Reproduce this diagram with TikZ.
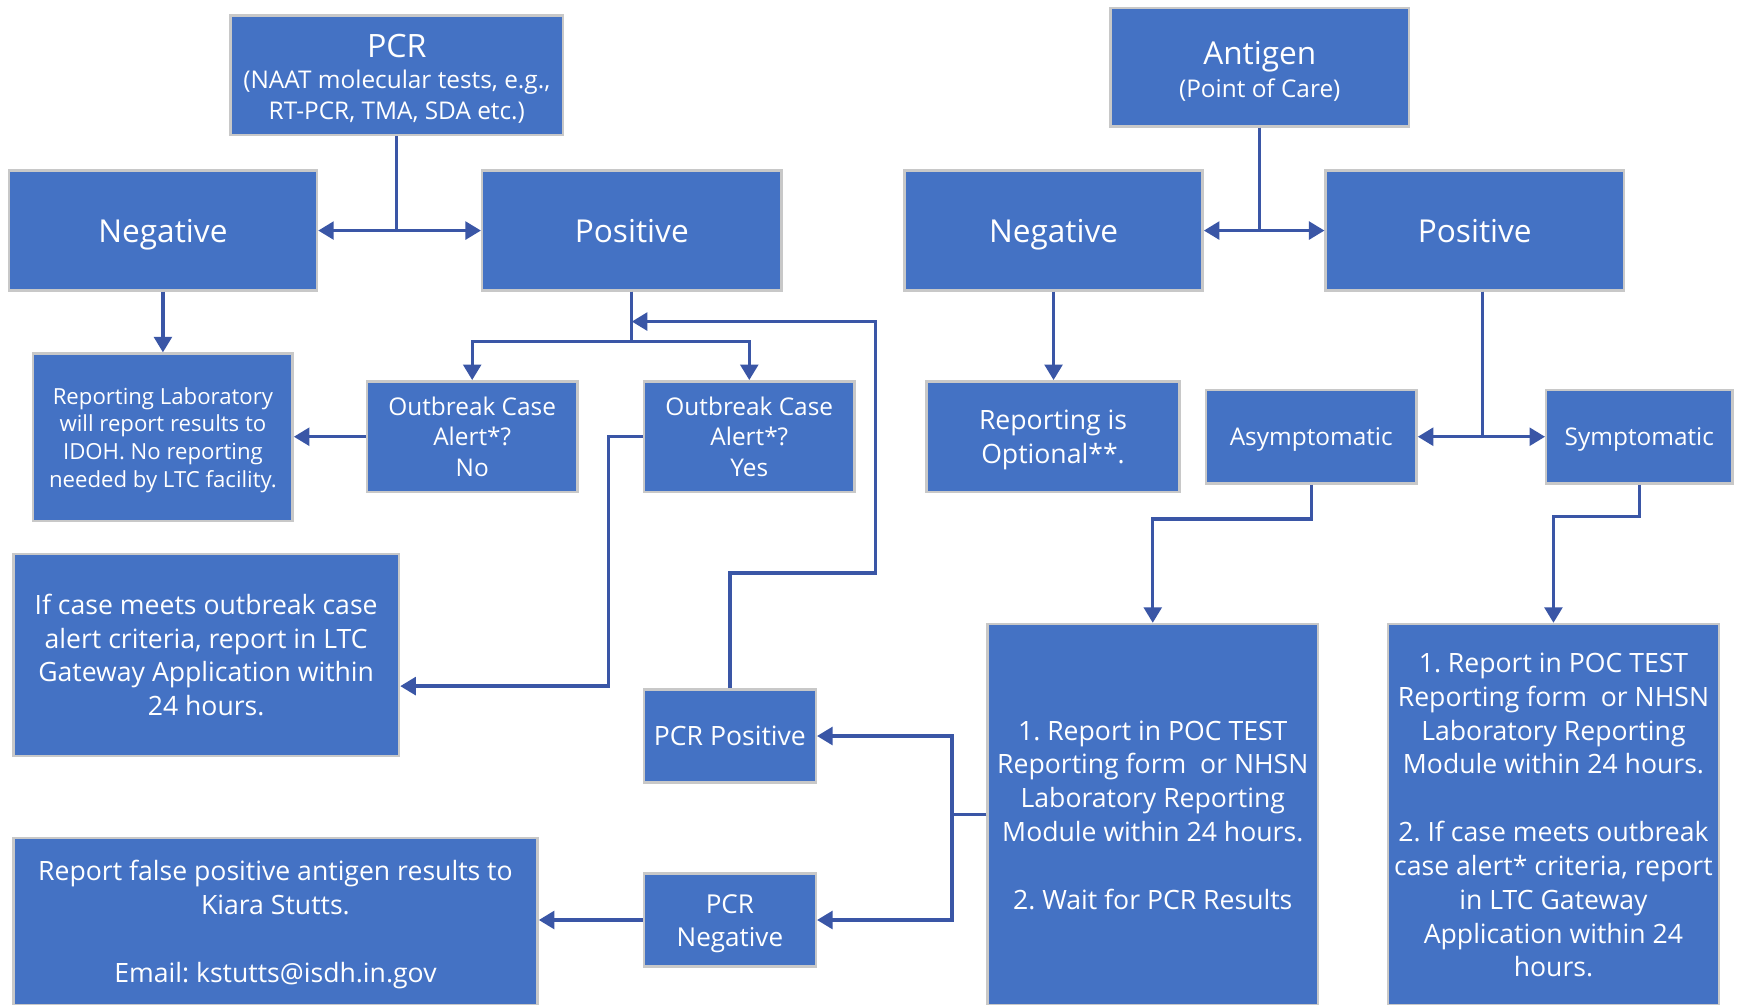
\documentclass[tikz,border=0pt]{standalone}
\usepackage{fontspec}
\setmainfont{Open Sans}
\usetikzlibrary{arrows.meta,calc}
\definecolor{boxblue}{HTML}{4472C4}
\definecolor{boxedge}{HTML}{C8C8C8}
\definecolor{linkblue}{HTML}{3A56A6}
\newcommand\fsz[2]{\fontsize{#1}{#2}\selectfont}
\newcommand\tst{\rule{0pt}{1.0em}}
\newcommand\bst{\rule[-0.25em]{0pt}{0.25em}}
\frenchspacing
\begin{document}
\begin{tikzpicture}[x=1pt,y=-1pt,
  box/.style={draw=boxedge, line width=2.2pt, fill=boxblue, text=white, align=center, inner sep=0pt},
  arr/.style={draw=linkblue, line width=3pt, -{Triangle[length=14pt,width=16pt]}}]
\fill[white] (0,0) rectangle (1568,906);
\useasboundingbox (0,0) rectangle (1568,906);

% PCR side
\node[box, minimum width=300pt, minimum height=108pt, font=\fsz{22}{28}] (pcr) at (358,68)
  {{\fsz{29}{30}\rule{0pt}{0.92em}PCR}\\(NAAT molecular tests, e.g.,\\RT-PCR, TMA, SDA etc.)\rule[-0.1em]{0pt}{0.1em}};
\node[box, minimum width=278pt, minimum height=108pt, font=\fsz{28.5}{34}] (negL) at (147,208) {\tst Negative\bst};
\node[box, minimum width=270pt, minimum height=108pt, font=\fsz{28.5}{34}] (posL) at (570,208) {\tst Positive\bst};
\node[box, minimum width=234pt, minimum height=151pt, font=\fsz{20}{25}] (lab) at (147,394.5)
  {\tst Reporting Laboratory\\will report results to\\IDOH. No reporting\\needed by LTC facility.\bst};
\node[box, minimum width=190pt, minimum height=100pt, font=\fsz{22}{27.5}] (obNo) at (426,394)
  {\tst Outbreak Case\\Alert*?\\No\bst};
\node[box, minimum width=190pt, minimum height=100pt, font=\fsz{22}{27.5}] (obYes) at (676,394)
  {\tst Outbreak Case\\Alert*?\\Yes\bst};
\node[box, minimum width=348pt, minimum height=182pt, font=\fsz{24}{30.5}] (ifcase) at (186,591)
  {\tst If case meets outbreak case\\alert criteria, report in LTC\\Gateway Application within\\24 hours.\bst};
\node[box, minimum width=155pt, minimum height=84pt, font=\fsz{24}{30}] (pcrPos) at (658.5,664) {\tst PCR Positive\bst};
\node[box, minimum width=155pt, minimum height=84pt, font=\fsz{23.5}{30}] (pcrNeg) at (658.5,830) {\tst PCR\\Negative\bst};
\node[box, minimum width=473pt, minimum height=151pt, font=\fsz{24}{30.5}] (falsePos) at (248.5,831.5)
  {\tst Report false positive antigen results to\\Kiara Stutts.\\[30.5pt]Email: kstutts@isdh.in.gov\bst};

% Antigen side
\node[box, minimum width=269pt, minimum height=107pt, font=\fsz{22}{30}] (antigen) at (1136.5,60.5)
  {{\fsz{28.5}{30}\tst Antigen}\\(Point of Care)};
\node[box, minimum width=269pt, minimum height=108pt, font=\fsz{28.5}{34}] (negR) at (950.5,208) {\tst Negative\bst};
\node[box, minimum width=269pt, minimum height=108pt, font=\fsz{28.5}{34}] (posR) at (1330.5,208) {\tst Positive\bst};
\node[box, minimum width=228pt, minimum height=100pt, font=\fsz{24}{31}] (optional) at (950,394)
  {\tst Reporting is\\Optional**.\bst};
\node[box, minimum width=190pt, minimum height=84pt, font=\fsz{22}{28}] (asym) at (1183,394) {\tst Asymptomatic\bst};
\node[box, minimum width=168pt, minimum height=84pt, font=\fsz{22}{28}] (sym) at (1479,394) {\tst Symptomatic\bst};
\node[box, minimum width=298pt, minimum height=344pt, font=\fsz{24}{30.5}] (midBig) at (1040,735)
  {\tst 1. Report in POC TEST\\Reporting form~ or NHSN\\Laboratory Reporting\\Module within 24 hours.\\[30.5pt]2. Wait for PCR Results\bst};
\node[box, minimum width=299pt, minimum height=344pt, font=\fsz{24}{30.5}] (rightBig) at (1401.5,735)
  {\tst 1. Report in POC TEST\\Reporting form~ or NHSN\\Laboratory Reporting\\Module within 24 hours.\\[30.5pt]2. If case meets outbreak\\case alert* criteria, report\\in LTC Gateway\\Application within 24\\hours.\bst};

% connectors, PCR side
\draw[arr] (pcr.south) |- (negL.east);
\draw[arr] (pcr.south) |- (posL.west);
\draw[arr] (negL.south) -- (lab.north);
\draw[arr] (posL.south) -- ++(0,45) -| (obNo.north);
\draw[arr] (posL.south) -- ++(0,45) -| (obYes.north);
\draw[arr] (obNo.west) -- (obNo.west -| lab.east);
\draw[arr] (obYes.west) -- ++(-31,0) |- ([yshift=-28pt]ifcase.east);
\coordinate (fb) at ($(posL.south)+(0,27)$);
\draw[arr] (pcrPos.north) -- ++(0,-104) -- ++(131.5,0) |- (fb);
\draw[arr] (pcrNeg.west) -- (pcrNeg.west -| falsePos.east);

% connectors, antigen side
\draw[arr] (antigen.south) |- (negR.east);
\draw[arr] (antigen.south) |- (posR.west);
\draw[arr] (negR.south) -- (negR.south |- optional.north);
\draw[arr] ([xshift=7pt]posR.south) |- (asym.east);
\draw[arr] ([xshift=7pt]posR.south) |- (sym.west);
\draw[arr] (asym.south) -- ++(0,31) -| (midBig.north);
\draw[arr] (sym.south) -- ++(0,29) -| (rightBig.north);
\draw[arr] (midBig.west) -- ++(-31,0) |- (pcrPos.east);
\draw[arr] (midBig.west) -- ++(-31,0) |- (pcrNeg.east);
\end{tikzpicture}
\end{document}
